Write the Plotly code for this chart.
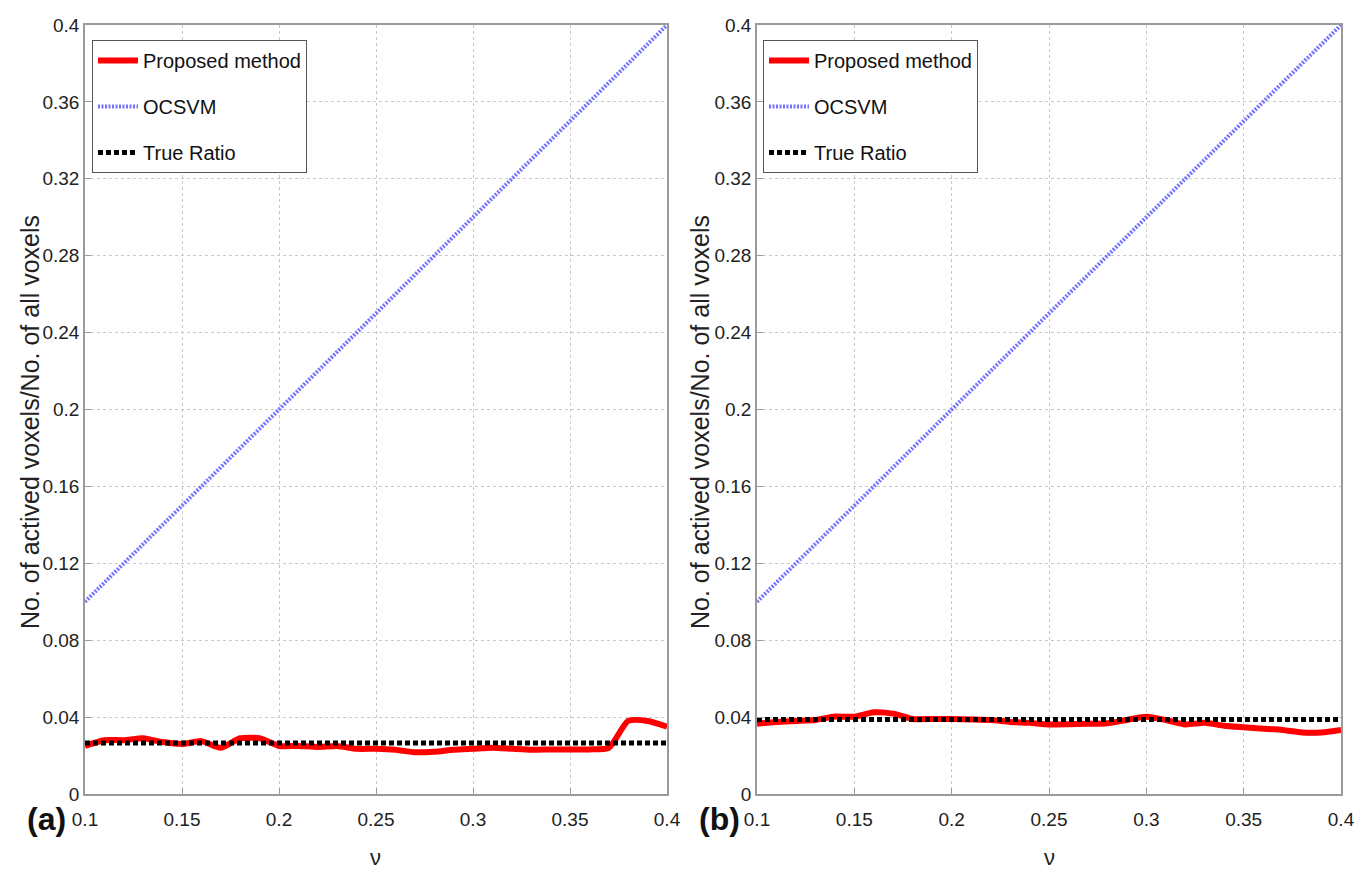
import plotly.graph_objects as go

# ---------------- data ----------------
nu = [0.10, 0.11, 0.12, 0.13, 0.14, 0.15, 0.16, 0.17, 0.18, 0.19, 0.20,
      0.21, 0.22, 0.23, 0.24, 0.25, 0.26, 0.27, 0.28, 0.29, 0.30,
      0.31, 0.32, 0.33, 0.34, 0.35, 0.36, 0.37, 0.38, 0.39, 0.40]

proposed_a = [0.0250, 0.0280, 0.0280, 0.0290, 0.0270, 0.0260, 0.0275, 0.0240, 0.0290, 0.0290, 0.0250,
              0.0250, 0.0245, 0.0250, 0.0235, 0.0235, 0.0230, 0.0217, 0.0220, 0.0230, 0.0235,
              0.0240, 0.0235, 0.0230, 0.0232, 0.0232, 0.0232, 0.0240, 0.0380, 0.0380, 0.0350]

proposed_b = [0.0366, 0.0374, 0.0380, 0.0385, 0.0403, 0.0402, 0.0425, 0.0418, 0.0390, 0.0390, 0.0390,
              0.0388, 0.0385, 0.0375, 0.0370, 0.0362, 0.0363, 0.0365, 0.0368, 0.0385, 0.0402,
              0.0385, 0.0362, 0.0370, 0.0355, 0.0347, 0.0340, 0.0333, 0.0320, 0.0320, 0.0333]

ocsvm_nu = [0.10, 0.40]
ocsvm = [0.10, 0.40]

true_ratio_a = 0.0265
true_ratio_b = 0.0388

x_ticks = [0.1, 0.15, 0.2, 0.25, 0.3, 0.35, 0.4]
x_tick_labels = ["0.1", "0.15", "0.2", "0.25", "0.3", "0.35", "0.4"]
y_ticks = [0, 0.04, 0.08, 0.12, 0.16, 0.2, 0.24, 0.28, 0.32, 0.36, 0.4]
y_tick_labels = ["0", "0.04", "0.08", "0.12", "0.16", "0.2", "0.24", "0.28", "0.32", "0.36", "0.4"]

series_names = ["Proposed method", "OCSVM", "True Ratio"]
panel_labels = ["(a)", "(b)"]
y_title = "No. of actived voxels/No. of all voxels"
x_title = "ν"

FONT = "Liberation Sans, Arial, sans-serif"

fig = go.Figure()

panels = [
    dict(prop=proposed_a, true=true_ratio_a, xa="x", ya="y", leg="legend"),
    dict(prop=proposed_b, true=true_ratio_b, xa="x2", ya="y2", leg="legend2"),
]

for p in panels:
    fig.add_trace(go.Scatter(
        x=nu, y=p["prop"], mode="lines", name=series_names[0],
        line=dict(color="rgb(255,0,0)", width=6, shape="spline", smoothing=0.6),
        xaxis=p["xa"], yaxis=p["ya"], legend=p["leg"], legendgroup="g1"))
    fig.add_trace(go.Scatter(
        x=ocsvm_nu, y=ocsvm, mode="lines", name=series_names[1],
        line=dict(color="rgb(115,115,255)", width=4, dash="2px,1.5px"),
        xaxis=p["xa"], yaxis=p["ya"], legend=p["leg"], legendgroup="g2"))
    fig.add_trace(go.Scatter(
        x=[nu[0], nu[-1]], y=[p["true"], p["true"]], mode="lines", name=series_names[2],
        line=dict(color="black", width=5, dash="5px,3px"),
        xaxis=p["xa"], yaxis=p["ya"], legend=p["leg"], legendgroup="g3"))

axis_common = dict(
    showline=True, mirror=True, linecolor="#9a9a9a", linewidth=1.5,
    ticks="inside", ticklen=6, tickcolor="#9a9a9a",
    showgrid=True, gridcolor="#c8c8c8", griddash="dot", gridwidth=1,
    zeroline=False, automargin=False,
    tickfont=dict(family=FONT, size=19, color="#222"),
)

H = 878.0
W = 1372.0
y_dom = [(H - 794) / H, (H - 25) / H]

legend_common = dict(y=(H - 40) / H, xanchor="left", yanchor="top",
                     bgcolor="white", bordercolor="#555", borderwidth=1,
                     font=dict(family=FONT, size=20, color="#111"),
                     itemwidth=40, tracegroupgap=17)

fig.update_layout(
    width=1372, height=878,
    margin=dict(l=0, r=0, t=0, b=0),
    paper_bgcolor="white", plot_bgcolor="white",
    font=dict(family=FONT, color="#222"),
    xaxis=dict(domain=[85 / W, 667 / W], range=[0.1, 0.4], tickvals=x_ticks,
               ticktext=x_tick_labels, anchor="y", ticklabelstandoff=7, **axis_common),
    yaxis=dict(domain=y_dom, range=[0, 0.4], tickvals=y_ticks,
               ticktext=y_tick_labels, anchor="x", **axis_common),
    xaxis2=dict(domain=[757 / W, 1341 / W], range=[0.1, 0.4], tickvals=x_ticks,
                ticktext=x_tick_labels, anchor="y2", ticklabelstandoff=7, **axis_common),
    yaxis2=dict(domain=y_dom, range=[0, 0.4], tickvals=y_ticks,
                ticktext=y_tick_labels, anchor="x2", **axis_common),
    legend=dict(x=92 / W, **legend_common),
    legend2=dict(x=763 / W, **legend_common),
    showlegend=True,
)

annotations = []
for cx, label in [(47, panel_labels[0]), (719, panel_labels[1])]:
    annotations.append(dict(text="<b>" + label + "</b>", x=cx / W, y=(H - 819) / H,
                            xref="paper", yref="paper", showarrow=False,
                            xanchor="center", yanchor="middle",
                            font=dict(family=FONT, size=32, color="#111")))
for cx in [30, 700]:
    annotations.append(dict(text=y_title, x=cx / W, y=(H - 422) / H, textangle=-90,
                            xref="paper", yref="paper", showarrow=False,
                            xanchor="center", yanchor="middle",
                            font=dict(family=FONT, size=25, color="#222")))
for cx in [376, 1049]:
    annotations.append(dict(text=x_title, x=cx / W, y=(H - 857) / H,
                            xref="paper", yref="paper", showarrow=False,
                            xanchor="center", yanchor="middle",
                            font=dict(family=FONT, size=22, color="#222")))
fig.update_layout(annotations=annotations)

fig.write_html("out.html", post_script="document.body.style.margin='0';",
               config={"displayModeBar": False})
